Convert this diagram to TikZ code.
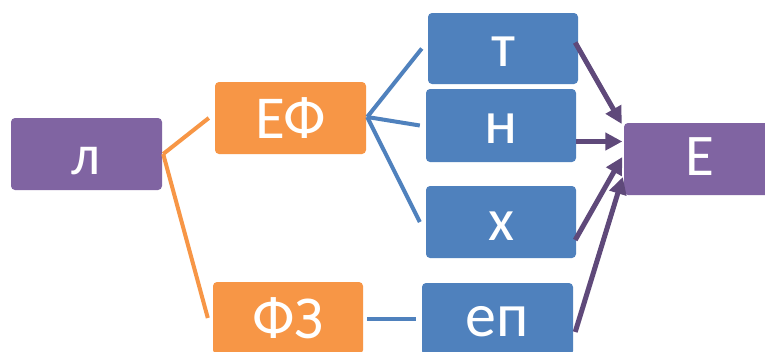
\documentclass[tikz,border=0pt]{standalone}
\usepackage{fontspec}
\setmainfont{Carlito}
\usetikzlibrary{arrows.meta}
\definecolor{cOrange}{HTML}{F79646}
\definecolor{cBlue}{HTML}{4F81BD}
\definecolor{cPurple}{HTML}{8064A2}
\definecolor{cArrow}{HTML}{5F497A}
\tikzset{
  box/.style={rectangle, rounded corners=4pt, minimum width=#1, minimum height=72pt, inner sep=0pt, draw=none},
  obox/.style={box=151pt, fill=cOrange},
  bbox/.style={box=150pt, fill=cBlue},
  pbox/.style={box=151pt, fill=cPurple},
  lbl/.style={text=white, inner sep=0pt},
  oline/.style={draw=cOrange, line width=4pt},
  bline/.style={draw=cBlue, line width=4pt},
  parrow/.style={draw=cArrow, line width=5pt, -{Triangle[length=17pt,width=17pt]}},
}
\begin{document}
\begin{tikzpicture}[x=1pt,y=-1pt]
\clip (0,0) rectangle (765,351);
\fill[white] (0,0) rectangle (765,351);
% boxes
\node[pbox] (l)  at (86.5,154) {};
\node[obox] (ef) at (290.5,118) {};
\node[obox, minimum width=150pt] (fz) at (288,318) {};
\node[bbox, minimum height=71pt] (t)  at (503,48.5) {};
\node[bbox, minimum height=73pt] (n)  at (501,125.5) {};
\node[bbox] (x)  at (501,222) {};
\node[bbox, minimum width=151pt] (ep) at (497.5,319) {};
\node[pbox] (E)  at (699.5,159) {};
% labels
\node[lbl, font=\fontsize{57}{60}\selectfont] (lt) at ([yshift=-7pt]l.center) {л};
\node[lbl, font=\fontsize{61}{64}\selectfont] (eft) at (ef.center) {ЕФ};
\node[lbl, font=\fontsize{61}{64}\selectfont] (fzt) at (fz.center) {ФЗ};
\node[lbl, font=\fontsize{62}{66}\selectfont] (tt) at ([yshift=-3.5pt]t.center) {т};
\node[lbl, font=\fontsize{62}{66}\selectfont] (nt) at ([yshift=-3.5pt]n.center) {н};
\node[lbl, font=\fontsize{60}{64}\selectfont] (xt) at ([yshift=-4.5pt]x.center) {х};
\node[lbl, font=\fontsize{62}{66}\selectfont] (ept) at ([yshift=-3pt]ep.center) {еп};
\node[lbl, font=\fontsize{59}{63}\selectfont] (Et) at ([yshift=2pt]E.center) {Е};
% orange connectors
\draw[oline] ([xshift=1pt]l.east) -- ([xshift=-6pt]ef.west);
\draw[oline] ([xshift=1pt]l.east) -- ([xshift=-5pt]fz.west);
% blue connectors
\draw[bline] ([shift={(1,-1)}]ef.east) -- ([xshift=-6pt]t.west);
\draw[bline] ([shift={(1,-1)}]ef.east) -- ([xshift=-6pt]n.west);
\draw[bline] ([shift={(1,-1)}]ef.east) -- ([xshift=-6pt]x.west);
\draw[bline] ([shift={(4,1)}]fz.east) -- ([shift={(-6,0)}]ep.west);
% purple arrows
\draw[parrow] ([shift={(-3,-6)}]t.east) -- ([shift={(-2,-35)}]E.west);
\draw[parrow] ([shift={(0,16)}]n.east) -- ([shift={(-1.5,-17.5)}]E.west);
\draw[parrow] ([shift={(-1,18)}]x.east) -- ([shift={(-1.5,-2)}]E.west);
\draw[parrow] ([shift={(2,13)}]ep.east) -- ([shift={(-1,18)}]E.west);
\end{tikzpicture}
\end{document}
